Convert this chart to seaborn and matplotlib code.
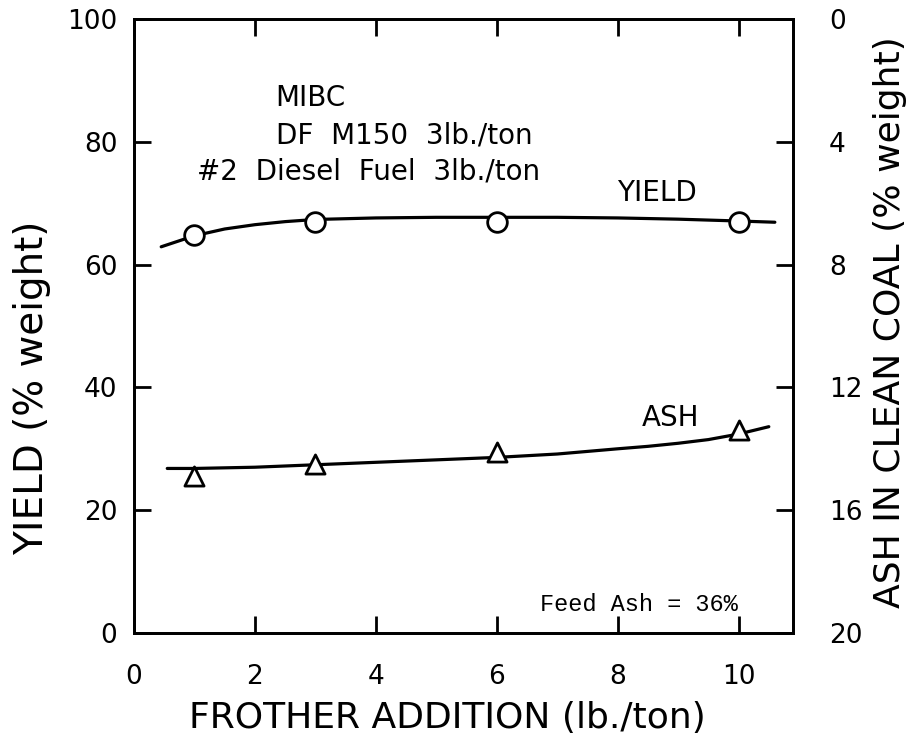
import matplotlib
matplotlib.use("Agg")
import matplotlib.pyplot as plt
import seaborn as sns
import pandas as pd

# ---- data ----
frother = [1, 3, 6, 10]
yield_pts = [64.9, 67.0, 66.9, 66.9]
ash_pts = [14.9, 14.5, 14.12, 13.4]

yield_curve_x = [0.45, 1, 1.5, 2, 2.5, 3, 4, 5, 6, 7, 8, 9, 10, 10.6]
yield_curve_y = [62.9, 64.7, 65.8, 66.5, 67.0, 67.35, 67.6, 67.7, 67.7, 67.7, 67.6, 67.4, 67.1, 66.9]
ash_curve_x = [0.55, 1, 2, 3, 4, 5, 6, 7, 8, 8.5, 9, 9.5, 10, 10.5]
ash_curve_y = [14.64, 14.64, 14.6, 14.52, 14.44, 14.36, 14.28, 14.17, 14.0, 13.92, 13.82, 13.7, 13.52, 13.28]

x_ticks = [0, 2, 4, 6, 8, 10]
yield_ticks = [0, 20, 40, 60, 80, 100]
ash_ticks = [0, 4, 8, 12, 16, 20]

sns.set_style("ticks")
plt.rcParams['font.family'] = ['DejaVu Sans']
plt.rcParams['text.color'] = 'black'
plt.rcParams['axes.labelcolor'] = 'black'

fig = plt.figure(figsize=(9.12, 7.43), dpi=100)
ax = fig.add_axes([134/912, 1 - 633/743, (793-134)/912, (633-19)/743])
ax2 = ax.twinx()

lw = 2.3
yc = pd.DataFrame({"x": yield_curve_x, "y": yield_curve_y})
sns.lineplot(data=yc, x="x", y="y", ax=ax, color="black", linewidth=lw, sort=False, zorder=2)
yp = pd.DataFrame({"x": frother, "y": yield_pts})
sns.scatterplot(data=yp, x="x", y="y", ax=ax, marker="o", s=200, facecolor="white",
                edgecolor="black", linewidth=2.0, zorder=3)

ac = pd.DataFrame({"x": ash_curve_x, "y": ash_curve_y})
sns.lineplot(data=ac, x="x", y="y", ax=ax2, color="black", linewidth=lw, sort=False, zorder=2)
ap = pd.DataFrame({"x": frother, "y": ash_pts})
sns.scatterplot(data=ap, x="x", y="y", ax=ax2, marker="^", s=190, facecolor="white",
                edgecolor="black", linewidth=2.0, zorder=3)

ax.set_xlim(0, 10.9)
ax.set_ylim(0, 100)
ax2.set_ylim(20, 0)
ax.set_xticks(x_ticks)
ax.set_yticks(yield_ticks)
ax2.set_yticks(ash_ticks)

for a in (ax, ax2):
    for s in a.spines.values():
        s.set_linewidth(2)
        s.set_color("black")

ax.tick_params(axis="x", direction="in", length=12, width=2, top=True, bottom=True,
               labelsize=19, pad=22, colors="black")
ax.tick_params(axis="y", direction="in", length=12, width=2, left=True, right=False,
               labelsize=19, pad=12, colors="black")
ax2.tick_params(axis="y", direction="in", length=12, width=2, right=True,
                labelsize=19, pad=26, colors="black")

ax.set_xlabel("FROTHER ADDITION (lb./ton)", fontsize=26, va="center")
ax.xaxis.set_label_coords(0.475, -0.139)
ax.set_ylabel("YIELD (% weight)", fontsize=28, va="center")
ax.yaxis.set_label_coords(-0.154, 0.40)
ax2.set_ylabel("ASH IN CLEAN COAL (% weight)", fontsize=26, va="center", rotation=90)
ax2.yaxis.set_label_coords(1.147, 0.507)

ax.text(2.33, 87.1, "MIBC", fontsize=20, ha="left", va="center")
ax.text(2.35, 81.1, "DF  M150  3lb./ton", fontsize=20, ha="left", va="center")
ax.text(1.04, 75.1, "#2  Diesel  Fuel  3lb./ton", fontsize=20, ha="left", va="center")
ax.text(7.99, 71.7, "YIELD", fontsize=20, ha="left", va="center")
ax.text(8.40, 35.0, "ASH", fontsize=20, ha="left", va="center")
ax.text(6.72, 4.6, "Feed Ash = 36%", fontsize=17, ha="left", va="center",
        family=["Liberation Mono", "DejaVu Sans Mono"])

fig.savefig("out.png", dpi=100)
